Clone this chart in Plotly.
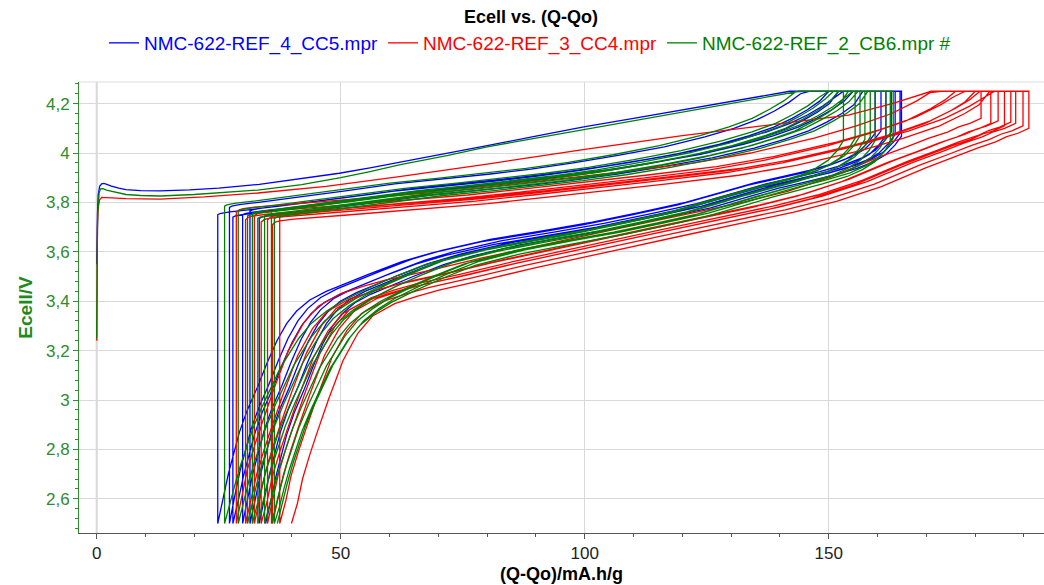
import plotly.graph_objects as go

# ---------------- data ----------------
# First (formation) charge of each cell: capacity (mA.h/g) and Ecell (V)
B_first_q = [0, 0, 0.15, 0.3, 0.6, 1.0, 1.5, 2.2, 3, 4.5, 6, 9, 13, 19, 25, 33.3, 41, 49.7, 56,
             62, 71, 80, 90, 99.8, 110, 120, 130, 137, 142]
B_first_v = [3.55, 3.6, 3.75, 3.83, 3.865, 3.875, 3.877, 3.872, 3.866, 3.858, 3.852, 3.848, 3.847,
             3.851, 3.858, 3.873, 3.893, 3.918, 3.94, 3.962, 3.995, 4.03, 4.068, 4.106, 4.14, 4.175,
             4.21, 4.233, 4.25]

R_first_q = [0, 0, 0.15, 0.3, 0.6, 1, 2, 3, 6, 13, 22, 33, 47, 62, 80, 100, 120, 140, 154, 163, 171]
R_first_v = [3.24, 3.53, 3.7, 3.78, 3.81, 3.82, 3.82, 3.818, 3.815, 3.813, 3.822, 3.838, 3.865,
             3.904, 3.955, 4.015, 4.07, 4.12, 4.153, 4.2, 4.25]

G_first_q = [0, 0, 0.1, 0.2, 0.5, 0.8, 1.3, 2, 4, 6, 9, 13, 20, 33, 42, 50, 56, 62, 72, 80, 90,
             100, 110, 120, 130, 138, 144]
G_first_v = [3.25, 3.4, 3.6, 3.75, 3.84, 3.855, 3.856, 3.85, 3.84, 3.832, 3.828, 3.826, 3.832,
             3.85, 3.872, 3.9, 3.925, 3.952, 3.99, 4.025, 4.06, 4.095, 4.13, 4.165, 4.2, 4.228, 4.25]

# Per cycle: end of CV step (discharge start), end of discharge (next charge start),
# capacity where the next charge reaches 4.25 V, and small voltage shifts
B_qmax = [159.5, 160.7, 161.7, 162.8, 163.6, 164.6, 164.9]
B_qe = [24.8, 27.2, 27.9, 29.9, 31.4, 33.3, 34.6]
B_qcv = [150, 146, 152, 155, 153, 157]
B_cdv = [0.0, 0.03, -0.01, 0.0, 0.015, -0.015]
B_ddv = [0.0, 0.01, -0.01, 0.005, -0.005, 0.0, -0.012]

R_qmax = [181.2, 183.2, 184.7, 186.0, 187.3, 188.3, 189.8, 191.0]
R_qe = [28.6, 30.5, 32.3, 33.7, 35.0, 36.0, 37.5, 39.9]
R_qcv = [173, 176, 178, 180, 181, 183, 184]
R_cdv = [0.03, 0.0, 0.015, -0.01, 0.0, -0.02, 0.01]
R_ddv = [0.02, 0.0, 0.01, -0.01, 0.005, 0.0, -0.01, -0.02]

G_qmax = [153.0, 155.4, 156.4, 157.4, 158.5, 159.5, 161.7, 162.6, 163.2]
G_qe = [26.2, 29.0, 30.9, 31.9, 33.0, 34.4, 35.8, 36.4, 37.0]
G_qcv = [145, 150, 152, 151, 154, 156, 155, 158]
G_cdv = [0.04, 0.02, 0.0, 0.01, -0.01, 0.0, 0.015, -0.01]
G_ddv = [-0.01, 0.0, 0.01, -0.005, 0.005, -0.01, 0.0, -0.015, 0.0]

# Typical charge curve: fraction of the way to the 4.25 V point vs Ecell
BC_g = [0, 0, 0.004, 0.01, 0.02, 0.05, 0.1, 0.15, 0.2, 0.285, 0.37, 0.45, 0.52, 0.593, 0.67,
        0.75, 0.82, 0.87, 0.91, 0.94, 0.965, 0.985, 1.0]
BC_v = [2.5, 3.75, 3.755, 3.758, 3.762, 3.77, 3.785, 3.80, 3.817, 3.845, 3.865, 3.885, 3.905,
        3.93, 3.96, 3.995, 4.035, 4.07, 4.105, 4.14, 4.175, 4.21, 4.25]
GC_g = [0, 0, 0.004, 0.01, 0.02, 0.05, 0.1, 0.15, 0.2, 0.285, 0.37, 0.45, 0.52, 0.593, 0.67,
        0.75, 0.82, 0.87, 0.91, 0.94, 0.965, 0.985, 1.0]
GC_v = [2.5, 3.745, 3.75, 3.753, 3.757, 3.765, 3.78, 3.795, 3.811, 3.838, 3.858, 3.878, 3.898,
        3.922, 3.953, 3.99, 4.03, 4.066, 4.1, 4.137, 4.172, 4.208, 4.25]
RC_g = [0, 0, 0.004, 0.01, 0.03, 0.1, 0.2, 0.3, 0.38, 0.46, 0.55, 0.65, 0.73, 0.82, 0.88, 0.93,
        0.965, 0.985, 1.0]
RC_v = [2.5, 3.73, 3.74, 3.745, 3.752, 3.768, 3.79, 3.815, 3.84, 3.865, 3.895, 3.93, 3.97, 4.03,
        4.08, 4.13, 4.18, 4.215, 4.25]

# Typical discharge curve: fraction of discharge span (0 = end at 2.5 V) vs Ecell
BD_f = [0, 0.008, 0.016, 0.025, 0.033, 0.045, 0.06, 0.075, 0.09, 0.105, 0.12, 0.14, 0.165, 0.19,
        0.23, 0.28, 0.326, 0.40, 0.48, 0.557, 0.63, 0.70, 0.76, 0.807, 0.85, 0.89, 0.93, 0.955,
        0.975, 0.99, 1.0]
BD_v = [2.5, 2.6, 2.7, 2.79, 2.87, 2.96, 3.05, 3.15, 3.24, 3.31, 3.36, 3.405, 3.44, 3.468, 3.51,
        3.56, 3.596, 3.64, 3.675, 3.71, 3.75, 3.79, 3.835, 3.87, 3.895, 3.92, 3.95, 3.975, 4.005,
        4.045, 4.08]
GD_f = [0, 0.008, 0.016, 0.025, 0.033, 0.045, 0.06, 0.075, 0.09, 0.105, 0.12, 0.14, 0.165, 0.19,
        0.23, 0.28, 0.326, 0.40, 0.48, 0.557, 0.63, 0.70, 0.76, 0.807, 0.85, 0.89, 0.93, 0.955,
        0.975, 0.99, 1.0]
GD_v = [2.5, 2.58, 2.66, 2.74, 2.8, 2.89, 2.98, 3.06, 3.14, 3.2, 3.26, 3.32, 3.37, 3.41, 3.46,
        3.515, 3.56, 3.607, 3.645, 3.68, 3.718, 3.757, 3.8, 3.835, 3.865, 3.89, 3.92, 3.948, 3.98,
        4.02, 4.06]
RD_f = [0, 0.008, 0.015, 0.025, 0.035, 0.05, 0.07, 0.09, 0.11, 0.14, 0.17, 0.2, 0.26, 0.33, 0.43,
        0.53, 0.6, 0.64, 0.68, 0.74, 0.80, 0.86, 0.90, 0.93, 0.955, 0.97, 0.985, 1.0]
RD_v = [2.5, 2.6, 2.7, 2.8, 2.89, 3.02, 3.18, 3.29, 3.36, 3.41, 3.44, 3.465, 3.505, 3.555, 3.62,
        3.685, 3.73, 3.755, 3.78, 3.825, 3.884, 3.96, 4.005, 4.04, 4.065, 4.086, 4.10, 4.12]

V_MAX = 4.25
V_MIN = 2.5

names = ["NMC-622-REF_4_CC5.mpr", "NMC-622-REF_3_CC4.mpr", "NMC-622-REF_2_CB6.mpr #"]
colors = ["#0000FF", "#FF0000", "#008000"]

x_tickvals = [0, 50, 100, 150]
x_ticktext = ["0", "50", "100", "150"]
y_tickvals = [2.6, 2.8, 3.0, 3.2, 3.4, 3.6, 3.8, 4.0, 4.2]
y_ticktext = ["2,6", "2,8", "3", "3,2", "3,4", "3,6", "3,8", "4", "4,2"]


def build(first_q, first_v, qmax, qe, qcv, cdv, ddv, ch_g, ch_v, dis_f, dis_v):
    q = list(first_q)
    v = list(first_v)
    for i in range(len(qmax)):
        if i > 0:
            qs, qc = qe[i - 1], qcv[i - 1]
            for g, vv in zip(ch_g, ch_v):
                q.append(qs + g * (qc - qs))
                v.append(vv + (cdv[i - 1] if V_MIN < vv < V_MAX else 0.0))
        q.append(qmax[i])
        v.append(V_MAX)
        for f, vv in zip(dis_f[::-1], dis_v[::-1]):
            q.append(qe[i] + f * (qmax[i] - qe[i]))
            v.append(vv + (ddv[i] if vv > V_MIN else 0.0))
    return q, v


series = [
    build(B_first_q, B_first_v, B_qmax, B_qe, B_qcv, B_cdv, B_ddv, BC_g, BC_v, BD_f, BD_v),
    build(R_first_q, R_first_v, R_qmax, R_qe, R_qcv, R_cdv, R_ddv, RC_g, RC_v, RD_f, RD_v),
    build(G_first_q, G_first_v, G_qmax, G_qe, G_qcv, G_cdv, G_ddv, GC_g, GC_v, GD_f, GD_v),
]

FONT = "Liberation Sans, Arial, sans-serif"

fig = go.Figure()
for (q, v), name, col in zip(series, names, colors):
    fig.add_trace(go.Scatter(
        x=q, y=v, mode="lines", name=f"<span style='color:{col}'>{name}</span>",
        line=dict(color=col, width=1.3), hoverinfo="skip"))

# orange marker line at Q-Qo = 0
fig.add_shape(type="line", xref="x", yref="paper", x0=0, x1=0, y0=0, y1=1,
              line=dict(color="#FFCC99", width=2), layer="below")
# light top frame
fig.add_shape(type="line", xref="paper", yref="paper", x0=0, x1=1, y0=1, y1=1,
              line=dict(color="#DDDDDD", width=1), layer="below")

fig.update_layout(
    width=1044, height=585,
    margin=dict(l=79, r=0, t=82, b=52),
    paper_bgcolor="white", plot_bgcolor="white",
    font=dict(family=FONT, size=17, color="#222222"),
    title=dict(text="<b>Ecell vs. (Q-Qo)</b>", x=531 / 1044, xanchor="center",
               xref="container", yref="container", y=1 - 17 / 585, yanchor="middle",
               font=dict(size=18, color="black", family=FONT)),
    legend=dict(orientation="h", xref="container", yref="container",
                x=530 / 1044, xanchor="center", y=1 - 43 / 585, yanchor="middle",
                font=dict(size=19, family=FONT), itemwidth=30, bgcolor="rgba(0,0,0,0)"),
    xaxis=dict(range=[-3.63, 194.1], tickvals=x_tickvals, ticktext=x_ticktext,
               showgrid=True, gridcolor="#D9D9D9", gridwidth=1, zeroline=False,
               showline=True, linecolor="#555555", linewidth=1,
               ticks="outside", ticklen=5, tickcolor="#555555",
               tickfont=dict(size=17, color="#222222"),
               minor=dict(dtick=10, tick0=0, ticks="outside", ticklen=3, tickcolor="#555555", showgrid=False),
               title=dict(text="<b>(Q-Qo)/mA.h/g</b>", font=dict(size=18, color="black"), standoff=4)),
    yaxis=dict(range=[2.4615, 4.2875], tickvals=y_tickvals, ticktext=y_ticktext,
               showgrid=True, gridcolor="#D9D9D9", gridwidth=1, zeroline=False,
               showline=True, linecolor="#2E8B2E", linewidth=1,
               ticks="outside", ticklen=5, tickcolor="#2E8B2E",
               tickfont=dict(size=17, color="#2E8B2E"),
               minor=dict(dtick=0.04, tick0=2.6, ticks="outside", ticklen=3, tickcolor="#2E8B2E", showgrid=False),
               title=dict(text="<b>Ecell/V</b>", font=dict(size=19, color="#1E8B1E"), standoff=8)),
)

fig.write_html("out.html")
